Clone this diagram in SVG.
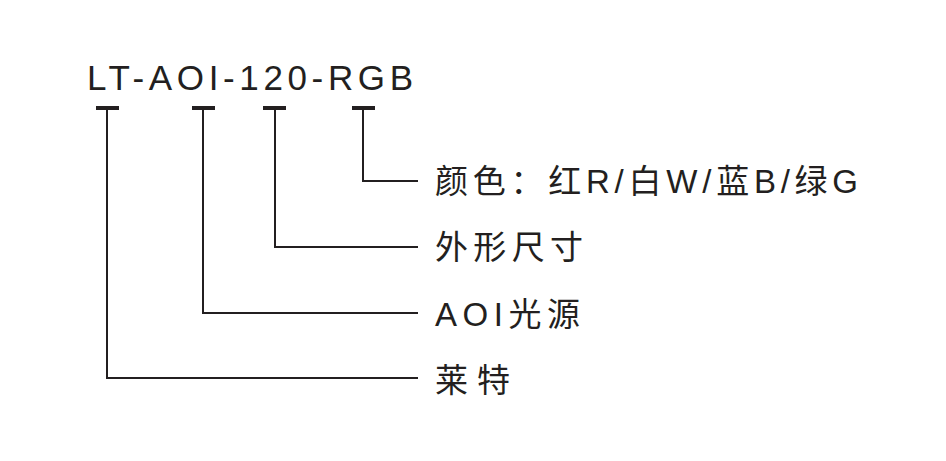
<svg xmlns="http://www.w3.org/2000/svg" width="946" height="461" viewBox="0 0 946 461">
<style>
.t{font-family:"Liberation Sans","Noto Sans CJK SC",sans-serif;fill:#231f20}
.l{stroke:#231f20;stroke-width:2;fill:none}
.b{stroke:#231f20;stroke-width:4}
</style>
<rect width="946" height="461" fill="#fff"/>
<g id="title"><text class="t" x="87" y="90" font-size="35" textLength="326" lengthAdjust="spacing">LT-AOI-120-RGB</text></g>
<g id="connectors">
<line class="b" x1="96" y1="108" x2="119" y2="108"/>
<line class="b" x1="192" y1="108" x2="215" y2="108"/>
<line class="b" x1="263" y1="108" x2="286" y2="108"/>
<line class="b" x1="352" y1="108" x2="375" y2="108"/>
<polyline class="l" points="363,108 363,181 418,181"/>
<polyline class="l" points="275,108 275,247 418,247"/>
<polyline class="l" points="203,108 203,313 418,313"/>
<polyline class="l" points="107,108 107,378 418,378"/>
</g>
<g id="n1"><text class="t" x="435" y="193" font-size="33" textLength="423" lengthAdjust="spacing">颜色：红R/白W/蓝B/绿G</text></g>
<g id="n2"><text class="t" x="435" y="259" font-size="33" textLength="148" lengthAdjust="spacing">外形尺寸</text></g>
<g id="n3"><text class="t" x="435" y="326" font-size="33" textLength="145" lengthAdjust="spacing">AOI光源</text></g>
<g id="n4"><text class="t" x="435" y="392" font-size="33" textLength="75" lengthAdjust="spacing">莱特</text></g>
</svg>
